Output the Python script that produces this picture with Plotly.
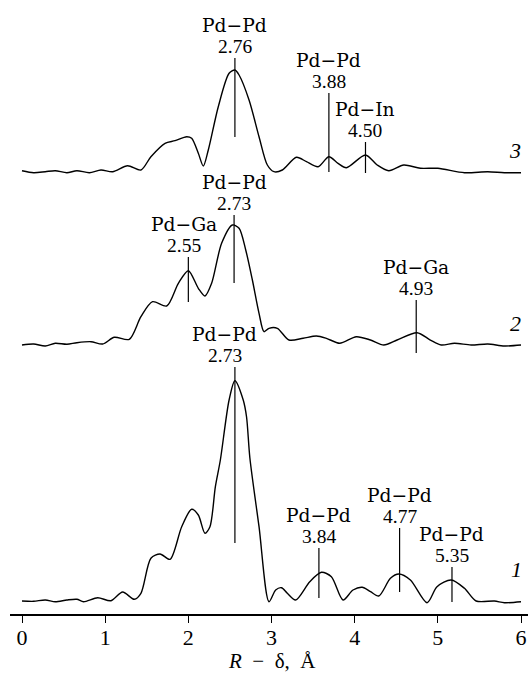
import plotly.graph_objects as go

# curve 1 (bottom)
r1 = [0, 0.14, 0.28, 0.40, 0.54, 0.66, 0.74, 0.91, 1.07, 1.21,
      1.35, 1.43, 1.55, 1.66, 1.78, 1.92, 2.04, 2.12, 2.20, 2.26,
      2.325, 2.385, 2.49, 2.56, 2.66, 2.70, 2.74, 2.85, 2.97, 3.05,
      3.12, 3.19, 3.29, 3.46, 3.60, 3.72, 3.86, 3.98, 4.09, 4.19,
      4.29, 4.43, 4.53, 4.67, 4.87, 4.99, 5.16, 5.32, 5.46, 5.68,
      5.80, 6.0]
amp1 = [0, -0.3, 1, -0.7, 1, 1.7, -0.7, 3.3, 0.3, 9,
        1.7, 7.7, 42.7, 47, 41.7, 74.3, 91.7, 86, 67.7, 74.3,
        114.3, 141, 201, 220.3, 201, 184, 143, 74.3, -0.7, 11,
        13.3, 7.7, 1, 19.3, 28.7, 24.3, 1, 11, 13.7, 9.3,
        5, 22.7, 27, 21, -1.7, 14.3, 21, 12.7, 0, 0,
        -1.7, -0.7]

# curve 2 (middle)
r2 = [0, 0.14, 0.28, 0.40, 0.54, 0.66, 0.83, 0.97, 1.11, 1.29,
      1.43, 1.57, 1.74, 1.88, 2.0, 2.12, 2.20, 2.28, 2.40, 2.53,
      2.61, 2.69, 2.77, 2.85, 2.91, 2.97, 3.07, 3.21, 3.38, 3.54,
      3.66, 3.82, 4.02, 4.19, 4.35, 4.51, 4.75, 4.91, 5.04, 5.20,
      5.40, 5.60, 5.80, 6.0]
amp2 = [0, 1, -1, 1.7, 0.7, 2.3, 3.3, 1, 7.7, 5.7,
        28.3, 43.3, 39, 61.7, 74.3, 56.7, 49, 61.7, 101.7, 120,
        116.7, 95, 65, 31.7, 13.3, 16.7, 16.7, 5, 6.7, 9,
        6.7, 1.7, 8.3, 5, 0, 5, 12.3, 5, 0, 1.7,
        0, 1, -1, 0]

# curve 3 (top)
r3 = [0, 0.14, 0.28, 0.40, 0.54, 0.66, 0.81, 0.95, 1.09, 1.27,
      1.43, 1.55, 1.72, 1.84, 1.98, 2.04, 2.12, 2.18, 2.24, 2.36,
      2.49, 2.56, 2.61, 2.73, 2.85, 2.95, 3.03, 3.13, 3.30, 3.42,
      3.56, 3.69, 3.80, 3.90, 4.13, 4.27, 4.41, 4.59, 4.79, 5.0,
      5.32, 5.60, 5.80, 6.0]
amp3 = [0.3, -1.7, -0.7, 0.3, -1.7, 0.3, -1.7, 1, -0.7, 5.3,
        1, 14.3, 27.7, 30.3, 34.3, 32.7, 17.7, 5, 21, 64.3,
        97.7, 101, 96, 71, 34.3, 6, -0.7, 1, 13.7, 9.3,
        4.3, 14.3, 7.7, 3.3, 16, 6, 0.3, 6, 2.7, 2.7,
        -1.7, -0.7, -1.7, -1.7]

curve_names = ["1", "2", "3"]
offsets = [13, 269, 443]
name_r = [5.95, 5.93, 5.93]
name_lift = [32, 22, 21]

# peak markers per curve: position, bond, distance, marker top/bottom (rel. to baseline)
mark_r = [[2.56, 3.57, 4.54, 5.17], [2.0, 2.55, 4.74], [2.56, 3.69, 4.13]]
mark_bond = [["Pd−Pd"] * 4, ["Pd−Ga", "Pd−Pd", "Pd−Ga"], ["Pd−Pd", "Pd−Pd", "Pd−In"]]
mark_dist = [["2.73", "3.84", "4.77", "5.35"], ["2.55", "2.73", "4.93"], ["2.76", "3.88", "4.50"]]
mark_top = [[234, 53, 73, 34], [88, 130, 45], [113, 78, 29]]
mark_bot = [[58, 3, 9, -1], [43, 62, -8], [34, -1, -2]]

# label nudges in px (x)
nudge = {(0, 0): -10, (1, 0): -4}

SERIF = "DejaVu Serif, serif"
NUM = "Liberation Serif, serif"

fig = go.Figure()
curves = [(r1, amp1), (r2, amp2), (r3, amp3)]
for i, (r, a) in enumerate(curves):
    fig.add_trace(go.Scatter(
        x=r, y=[v + offsets[i] for v in a], mode="lines",
        line=dict(color="black", width=1.4, shape="spline", smoothing=0.8),
        hoverinfo="skip", showlegend=False,
    ))
    fig.add_annotation(x=name_r[i], y=offsets[i] + name_lift[i],
                       text="<i>" + curve_names[i] + "</i>", showarrow=False,
                       font=dict(family=NUM, size=22, color="black"), yanchor="middle")
    for j, xr in enumerate(mark_r[i]):
        top = mark_top[i][j] + offsets[i]
        fig.add_trace(go.Scatter(
            x=[xr, xr], y=[mark_bot[i][j] + offsets[i], top], mode="lines",
            line=dict(color="black", width=1.2), hoverinfo="skip", showlegend=False,
        ))
        dx = nudge.get((i, j), 0)
        fig.add_annotation(x=xr, y=top + 12, text=mark_dist[i][j], showarrow=False,
                           xshift=dx, font=dict(family=NUM, size=19.5, color="black"))
        fig.add_annotation(x=xr, y=top + 33, text=mark_bond[i][j], showarrow=False,
                           xshift=dx, font=dict(family=SERIF, size=18.7, color="black"))

fig.add_annotation(x=3.0, y=0, yref="paper", yanchor="middle", yshift=-47,
                   text="<i>R</i>\u2002−\u2002δ,\u2002Å", showarrow=False,
                   font=dict(family=NUM, size=21, color="black"))

fig.update_layout(
    width=528, height=673,
    margin=dict(l=10, r=0, t=0, b=59),
    paper_bgcolor="white", plot_bgcolor="white",
    xaxis=dict(range=[-0.1443, 6.084], tickvals=[0, 1, 2, 3, 4, 5, 6],
               showline=True, linecolor="black", linewidth=2,
               ticks="outside", ticklen=7, tickwidth=1.3, tickcolor="black",
               ticklabelstandoff=-4,
               showgrid=False, zeroline=False,
               tickfont=dict(family=NUM, size=22, color="black")),
    yaxis=dict(range=[0, 614], visible=False, showgrid=False, zeroline=False),
)

fig.write_html("out.html", config={"displayModeBar": False},
               post_script="document.body.style.margin='0px';")
